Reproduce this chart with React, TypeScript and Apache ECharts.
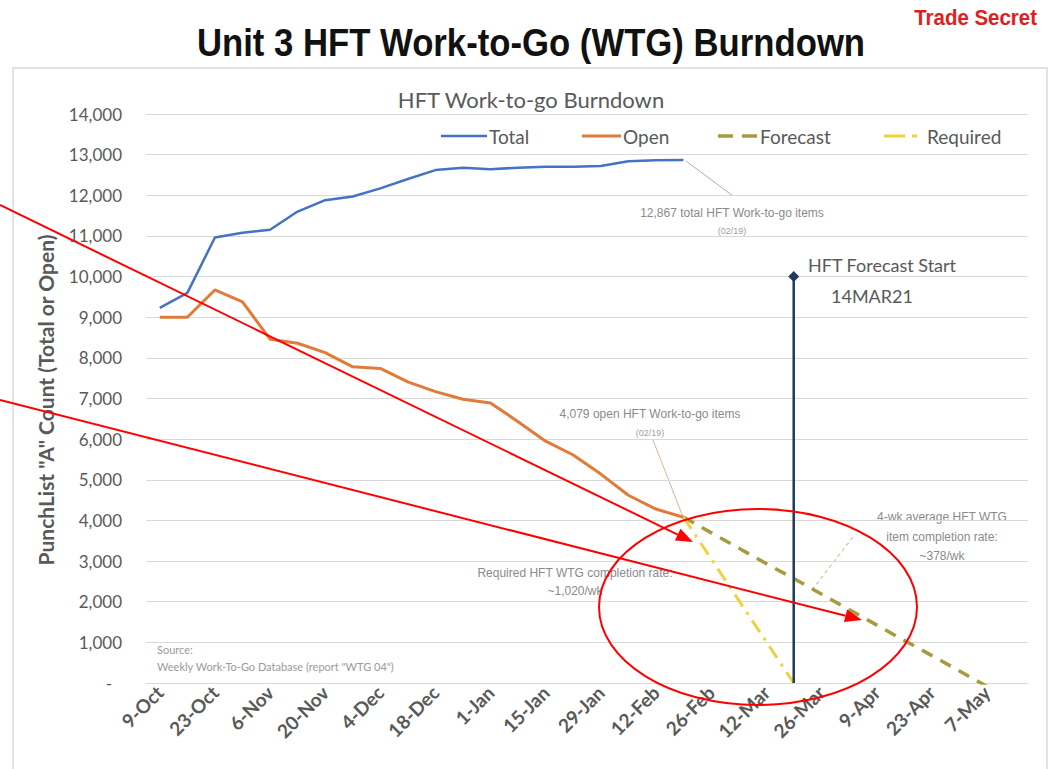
import React, { useEffect, useRef } from 'react';
import * as echarts from 'echarts';

const categories = ['9-Oct','16-Oct','23-Oct','30-Oct','6-Nov','13-Nov','20-Nov','27-Nov','4-Dec','11-Dec','18-Dec','25-Dec','1-Jan','8-Jan','15-Jan','22-Jan','29-Jan','5-Feb','12-Feb','19-Feb','26-Feb','5-Mar','12-Mar','19-Mar','26-Mar','2-Apr','9-Apr','16-Apr','23-Apr','30-Apr','7-May','14-May'];

const totalValues = [9230, 9600, 10960, 11080, 11150, 11600, 11880, 11970, 12170, 12400, 12620, 12680, 12640, 12680, 12700, 12700, 12720, 12840, 12860, 12867];
const openValues = [9000, 9000, 9670, 9380, 8460, 8360, 8130, 7780, 7740, 7410, 7170, 6980, 6890, 6430, 5950, 5610, 5140, 4620, 4280, 4079];
const forecastStartIndex = 19;
const forecastValues = [4079, 3700, 3320, 2940, 2570, 2190, 1810, 1430, 1050, 680, 300, -80];
const requiredValues = [4079, 3060, 2040, 1020, 0];
const forecastMarkerIndex = 23;
const forecastMarkerValue = 10000;

const seriesNames = ['Total', 'Open', 'Forecast', 'Required'];
const seriesColors = ['#4472C4', '#E07B39', '#A89A3E', '#EDD43C'];

const yTicks = { min: 0, max: 14000, interval: 1000 };

const pad = (start: number, vals: number[]) => {
  const out: (number | null)[] = [];
  for (let i = 0; i < categories.length; i++) {
    const j = i - start;
    out.push(j >= 0 && j < vals.length ? vals[j] : null);
  }
  return out;
};

const arrow = (x1: number, y1: number, x2: number, y2: number) => {
  const dx = x2 - x1, dy = y2 - y1;
  const len = Math.sqrt(dx * dx + dy * dy);
  const ux = dx / len, uy = dy / len;
  const L = 17, W = 6.5;
  const bx = x2 - ux * L, by = y2 - uy * L;
  return [
    { type: 'line', z: 100, shape: { x1, y1, x2: bx, y2: by }, style: { stroke: '#FF0000', lineWidth: 2 } },
    { type: 'polygon', z: 100, shape: { points: [[x2, y2], [bx - uy * W, by + ux * W], [bx + uy * W, by - ux * W]] }, style: { fill: '#FF0000' } },
  ];
};

const narrow = '"Liberation Sans Narrow", "Liberation Sans", Arial, sans-serif';
const calibri = 'Lato, "Open Sans", sans-serif';
const gray = '#595959';

const legendItems = [
  { x1: 441, x2: 487, tx: 489, width: 2.5, dash: null as number[] | null },
  { x1: 582, x2: 621, tx: 623, width: 3, dash: null as number[] | null },
  { x1: 718, x2: 757, tx: 760, width: 3.5, dash: [15, 9] },
  { x1: 884, x2: 918, tx: 927, width: 3, dash: [21, 7, 5, 30] },
];

export default function App() {
  const ref = useRef<HTMLDivElement>(null);
  useEffect(() => {
    document.body.style.margin = '0';
    const chart = echarts.init(ref.current!, null, { renderer: 'svg' });
    const legendGraphics: any[] = [];
    legendItems.forEach((it, i) => {
      legendGraphics.push({ type: 'line', shape: { x1: it.x1, y1: 136, x2: it.x2, y2: 136 }, style: { stroke: seriesColors[i], lineWidth: it.width, lineDash: it.dash || undefined } });
      legendGraphics.push({ type: 'text', x: it.tx, y: 136, style: { text: seriesNames[i], font: `19px ${calibri}`, fill: gray, align: 'left', verticalAlign: 'middle' } });
    });
    chart.setOption({
      animation: false,
      backgroundColor: '#ffffff',
      grid: { left: 146, right: 23, top: 114, bottom: 86 },
      xAxis: {
        type: 'category',
        data: categories,
        boundaryGap: true,
        axisLine: { lineStyle: { color: '#d9d9d9', width: 1 } },
        axisTick: { interval: 0, length: 5, lineStyle: { color: '#d9d9d9' } },
        axisLabel: { interval: 1, rotate: 45, fontSize: 19, fontWeight: 'bold', color: gray, fontFamily: calibri, margin: 6 },
        splitLine: { show: false },
      },
      yAxis: {
        type: 'value',
        min: yTicks.min,
        max: yTicks.max,
        interval: yTicks.interval,
        axisLine: { show: false },
        axisTick: { show: false },
        splitLine: { lineStyle: { color: '#d9d9d9', width: 1 } },
        axisLabel: {
          fontSize: 17, color: gray, fontFamily: calibri, margin: 24,
          formatter: (v: number) => (v === 0 ? '{d|-}' : v.toLocaleString('en-US')),
          rich: { d: { fontSize: 17, color: gray, fontFamily: calibri, padding: [0, 10, 0, 0] } },
        },
      },
      series: [
        { name: seriesNames[0], type: 'line', data: pad(0, totalValues), symbol: 'none', lineStyle: { color: seriesColors[0], width: 2.5 } },
        { name: seriesNames[1], type: 'line', data: pad(0, openValues), symbol: 'none', lineStyle: { color: seriesColors[1], width: 3 } },
        { name: seriesNames[2], type: 'line', data: pad(forecastStartIndex, forecastValues), symbol: 'none', clip: true, lineStyle: { color: seriesColors[2], width: 3.5, type: [12, 9] } },
        { name: seriesNames[3], type: 'line', data: pad(forecastStartIndex, requiredValues), symbol: 'none', lineStyle: { color: seriesColors[3], width: 3, type: [14, 7, 3, 7] } },
        {
          name: 'HFT Forecast Start', type: 'line', z: 5,
          data: [
            { value: [forecastMarkerIndex, 0], symbol: 'none' },
            { value: [forecastMarkerIndex, forecastMarkerValue], symbol: 'diamond', symbolSize: 11 },
          ],
          lineStyle: { color: '#1F3B5C', width: 2.5 }, itemStyle: { color: '#1F3B5C' },
        },
      ],
      graphic: [
        { type: 'rect', z: -1, shape: { x: 13, y: 68, width: 1034, height: 720 }, style: { fill: 'none', stroke: '#d9d9d9', lineWidth: 1.5 } },
        { type: 'text', x: 531, y: 43, scaleX: 0.89, style: { text: 'Unit 3 HFT Work-to-Go (WTG) Burndown', font: `bold 39px ${narrow}`, fill: '#111111', align: 'center', verticalAlign: 'middle' } },
        { type: 'text', x: 1037, y: 18, scaleX: 0.93, style: { text: 'Trade Secret', font: `bold 22px ${narrow}`, fill: '#E0201E', align: 'right', verticalAlign: 'middle' } },
        { type: 'text', x: 531, y: 99, style: { text: 'HFT Work-to-go Burndown', font: `22px ${calibri}`, fill: gray, align: 'center', verticalAlign: 'middle' } },
        ...legendGraphics,
        { type: 'text', x: 45, y: 400, rotation: Math.PI / 2, style: { text: 'PunchList "A" Count (Total or Open)', font: `bold 21px ${calibri}`, fill: gray, align: 'center', verticalAlign: 'middle' } },
        { type: 'text', x: 808, y: 265, style: { text: 'HFT Forecast Start', font: `18px ${calibri}`, fill: gray, align: 'left', verticalAlign: 'middle' } },
        { type: 'text', x: 872, y: 296, style: { text: '14MAR21', font: `18px ${calibri}`, fill: gray, align: 'center', verticalAlign: 'middle' } },
        { type: 'line', shape: { x1: 686, y1: 161, x2: 733, y2: 196 }, style: { stroke: '#9DB0C8', lineWidth: 1 } },
        { type: 'text', x: 732, y: 213, style: { text: '12,867 total HFT Work-to-go items', font: `12px ${narrow}`, fill: '#8a8a8a', align: 'center', verticalAlign: 'middle' } },
        { type: 'text', x: 732, y: 231, style: { text: '(02/19)', font: `9px ${narrow}`, fill: '#a0a0a0', align: 'center', verticalAlign: 'middle' } },
        { type: 'line', shape: { x1: 653, y1: 440, x2: 683, y2: 517 }, style: { stroke: '#E3B38C', lineWidth: 1 } },
        { type: 'text', x: 650, y: 414, style: { text: '4,079 open HFT Work-to-go items', font: `12px ${narrow}`, fill: '#8a8a8a', align: 'center', verticalAlign: 'middle' } },
        { type: 'text', x: 650, y: 433, style: { text: '(02/19)', font: `9px ${narrow}`, fill: '#a0a0a0', align: 'center', verticalAlign: 'middle' } },
        { type: 'text', x: 575, y: 573, style: { text: 'Required HFT WTG completion rate:', font: `12px ${narrow}`, fill: '#8a8a8a', align: 'center', verticalAlign: 'middle' } },
        { type: 'text', x: 575, y: 591, style: { text: '~1,020/wk', font: `12px ${narrow}`, fill: '#8a8a8a', align: 'center', verticalAlign: 'middle' } },
        { type: 'line', shape: { x1: 812, y1: 590, x2: 853, y2: 537 }, style: { stroke: '#D8C49A', lineWidth: 1.2, lineDash: [4, 3] } },
        { type: 'text', x: 942, y: 517, style: { text: '4-wk average HFT WTG', font: `12px ${narrow}`, fill: '#8a8a8a', align: 'center', verticalAlign: 'middle' } },
        { type: 'text', x: 942, y: 537, style: { text: 'item completion rate:', font: `12px ${narrow}`, fill: '#8a8a8a', align: 'center', verticalAlign: 'middle' } },
        { type: 'text', x: 942, y: 556, style: { text: '~378/wk', font: `12px ${narrow}`, fill: '#8a8a8a', align: 'center', verticalAlign: 'middle' } },
        { type: 'text', x: 157, y: 649, style: { text: 'Source:', font: `11px ${calibri}`, fill: '#9a9a9a', align: 'left', verticalAlign: 'middle' } },
        { type: 'text', x: 157, y: 666, style: { text: 'Weekly Work-To-Go Database (report "WTG 04")', font: `11px ${calibri}`, fill: '#9a9a9a', align: 'left', verticalAlign: 'middle' } },
        ...arrow(0, 205, 693, 542),
        ...arrow(0, 400, 862, 620),
        { type: 'ellipse', z: 100, shape: { cx: 758, cy: 607, rx: 159, ry: 98 }, style: { fill: 'none', stroke: '#FF0000', lineWidth: 2 } },
      ],
    });
    return () => chart.dispose();
  }, []);
  return <div ref={ref} style={{ width: 1051, height: 769 }} />;
}
